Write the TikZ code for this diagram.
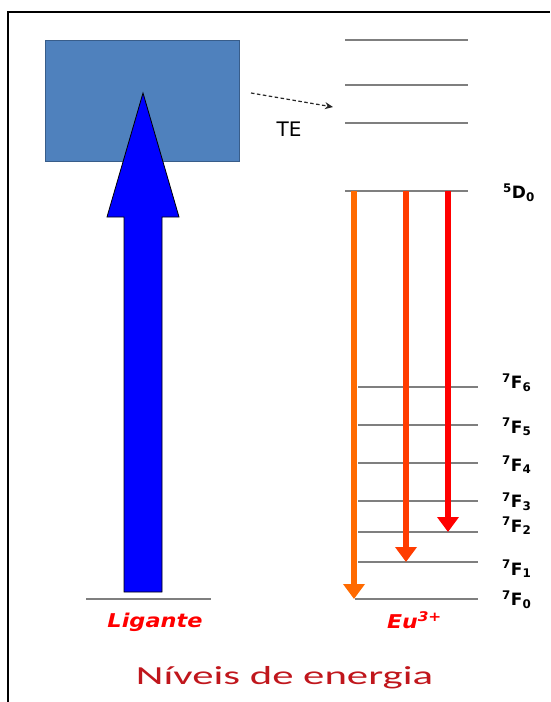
\documentclass[tikz,border=0pt]{standalone}
\usepackage{fontspec}
\usepackage{graphicx}
\usepackage{tikz}
\usetikzlibrary{arrows.meta,calc}
\newfontfamily\dvsans{DejaVu Sans}
\newfontfamily\calib{Carlito}
\definecolor{caixa}{HTML}{4F81BD}
\definecolor{caixab}{HTML}{385D8A}
\definecolor{claranja}{HTML}{FF6A00}
\definecolor{claranjav}{HTML}{FF3C00}
\definecolor{cvermelho}{HTML}{FF0000}
\definecolor{ctitulo}{HTML}{C0161C}
\definecolor{cnivel}{HTML}{7F7F7F}
\tikzset{
  nivel/.style={draw=cnivel, line width=1.4pt},
  emissao/.style={line width=6.5pt, -{Triangle[length=15pt,width=21pt]}},
  termo/.style={font=\dvsans\bfseries\fontsize{17}{20}\selectfont, anchor=west, inner sep=0pt},
  rotulo/.style={text=cvermelho, font=\dvsans\bfseries\itshape\fontsize{19}{22}\selectfont,
    anchor=base, inner sep=0pt},
  setate/.style={-{Stealth[length=8pt,width=7pt]}, dash pattern=on 3.5pt off 2.5pt,
    line width=1.2pt, draw=black!85},
}

\begin{document}
\begin{tikzpicture}[x=1pt,y=-1pt]
  \useasboundingbox (0,0) rectangle (550,702);
  % moldura
  \draw[line width=2.5pt] (8,702) -- (8,12) -- (550,12);

  % ligante
  \node[draw=caixab, fill=caixa, line width=0.8pt, minimum width=194pt, minimum height=121pt,
    anchor=north west, inner sep=0pt] (caixa) at (45,40) {};
  \draw[nivel] (86,599) coordinate (lig0) -- (211,599) coordinate (lig1);
  \draw[fill=blue, draw=black, line width=0.8pt] (143,93) -- (179,217) -- (162,217) -- (162,592)
    -- (124,592) -- (124,217) -- (107,217) -- cycle;

  % transferencia de energia
  \coordinate (te0) at (251,93);
  \coordinate (te1) at (333,107);
  \draw[setate] (te0) -- (te1);
  \node[font=\dvsans\fontsize{20}{23}\selectfont] (te) at (289,129) {TE};

  % niveis do Eu
  \foreach \y in {40,85,123} \draw[nivel] (345,\y) -- (468,\y);
  \draw[nivel] (345,191) coordinate (d0a) -- (468,191) coordinate (d0b);
  \node[termo] (d0) at (503,193) {\textsuperscript{5}D\textsubscript{0}};
  \foreach \n/\y/\ly in {6/387/383, 5/425/427, 4/463/465, 3/501/502, 2/532/526, 1/562/569} {
    \draw[nivel] (358,\y) coordinate (f\n) -- (478,\y);
    \node[termo] (tf\n) at (502,\ly) {\textsuperscript{7}F\textsubscript{\n}};
  }
  \draw[nivel] (355,599) coordinate (f0) -- (478,599);
  \node[termo] (tf0) at (502,600) {\textsuperscript{7}F\textsubscript{0}};

  % emissoes
  \coordinate (xa) at (354,0);
  \coordinate (xb) at (406,0);
  \coordinate (xc) at (448,0);
  \draw[emissao, draw=claranja, fill=claranja] (xa |- d0a) -- (xa |- f0);
  \draw[emissao, draw=claranjav, fill=claranjav] (xb |- d0a) -- (xb |- f1);
  \draw[emissao, draw=cvermelho, fill=cvermelho] (xc |- d0a) -- (xc |- f2);

  % rotulos
  \node[rotulo] (ligante) at (155,627) {\resizebox{95pt}{\height}{Ligante}};
  \node[rotulo] (eu) at (414.5,628) {\resizebox{55pt}{\height}{Eu\textsuperscript{3+}}};
  \node[text=ctitulo, font=\calib\fontsize{26}{30}\selectfont, anchor=base, inner sep=0pt]
    (titulo) at (284.5,684) {\resizebox{297pt}{\height}{Níveis de energia}};
\end{tikzpicture}
\end{document}
